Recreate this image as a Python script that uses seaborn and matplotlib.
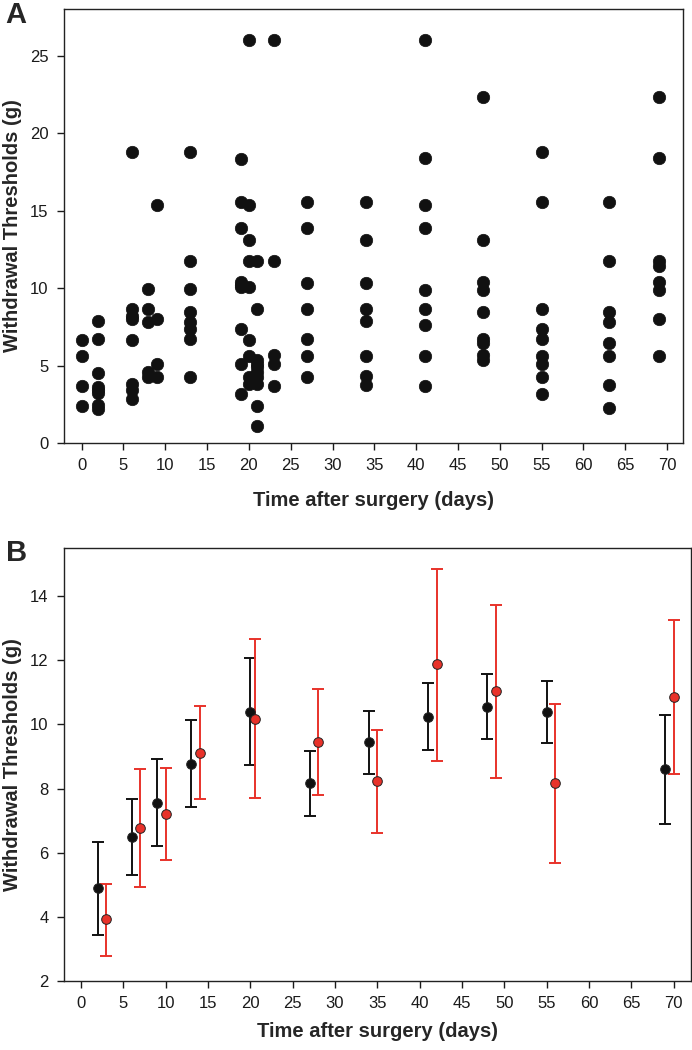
import matplotlib
matplotlib.use("Agg")
import matplotlib.pyplot as plt
import pandas as pd
import seaborn as sns

# Panel A: individual withdrawal thresholds (g) per day after surgery
days_a = [0, 2, 6, 8, 9, 13, 19, 20, 21, 23, 27, 34, 41, 48, 55, 63, 69]
thresholds_a = [
    [6.62, 5.59, 3.68, 2.39],
    [7.85, 6.69, 4.52, 3.6, 3.4, 3.23, 2.43, 2.22],
    [18.8, 8.67, 8.2, 7.98, 6.62, 3.83, 3.4, 2.86],
    [9.91, 8.67, 7.8, 4.58, 4.26],
    [15.33, 7.98, 5.08, 4.26],
    [18.8, 11.72, 9.96, 8.45, 7.8, 7.38, 6.69, 4.26],
    [18.34, 15.57, 13.87, 10.39, 10.2, 10.06, 7.33, 5.12, 3.18],
    [26.0, 15.33, 13.07, 11.72, 10.06, 6.62, 5.59, 4.26, 3.83],
    [11.72, 8.67, 5.38, 5.1, 4.9, 4.6, 4.26, 3.83, 2.39, 1.1],
    [26.0, 11.72, 5.66, 5.08, 3.68],
    [15.57, 13.87, 10.34, 8.67, 6.69, 5.59, 4.26],
    [15.57, 13.12, 10.34, 8.67, 7.85, 5.59, 4.3, 3.76],
    [26.0, 18.37, 15.35, 13.87, 9.89, 8.67, 7.59, 5.59, 3.68],
    [22.32, 13.12, 10.39, 9.89, 8.45, 6.73, 6.45, 5.66, 5.38],
    [18.8, 15.57, 8.67, 7.33, 6.69, 5.59, 5.12, 4.26, 3.18],
    [15.57, 11.72, 8.45, 7.8, 6.45, 5.59, 3.76, 2.26],
    [22.32, 18.37, 11.72, 11.42, 10.39, 9.89, 7.98, 5.59],
]

# Panel B: group means with error bars (black and red groups)
days_black = [2, 6, 9, 13, 20, 27, 34, 41, 48, 55, 69]
mean_black = [4.89, 6.50, 7.56, 8.78, 10.39, 8.16, 9.44, 10.24, 10.55, 10.38, 8.60]
hi_black = [6.32, 7.69, 8.92, 10.14, 12.06, 9.18, 10.43, 11.28, 11.56, 11.35, 10.29]
lo_black = [3.43, 5.32, 6.21, 7.43, 8.73, 7.14, 8.44, 9.20, 9.53, 9.41, 6.89]

days_red = [3, 7, 10, 14, 20.5, 28, 35, 42, 49, 56, 70]
mean_red = [3.92, 6.78, 7.21, 9.12, 10.17, 9.46, 8.23, 11.87, 11.03, 8.16, 10.86]
hi_red = [5.01, 8.60, 8.63, 10.57, 12.66, 11.10, 9.82, 14.86, 13.72, 10.63, 13.27]
lo_red = [2.79, 4.93, 5.76, 7.66, 7.70, 7.80, 6.60, 8.86, 8.34, 5.69, 8.45]

xticks = list(range(0, 75, 5))

sns.set_style("ticks")
plt.rcParams["font.family"] = ["Liberation Sans", "DejaVu Sans"]
plt.rcParams["axes.linewidth"] = 1.0
plt.rcParams["xtick.major.size"] = 5
plt.rcParams["ytick.major.size"] = 5
plt.rcParams["xtick.major.width"] = 1.0
plt.rcParams["ytick.major.width"] = 1.0
plt.rcParams["xtick.color"] = "#1a1a1a"
plt.rcParams["ytick.color"] = "#1a1a1a"

fig = plt.figure(figsize=(6.92, 10.5), dpi=100)
ax_a = fig.add_axes([0.0925, 0.5781, 0.8945, 0.4133])
ax_b = fig.add_axes([0.0925, 0.0657, 0.9056, 0.4124])

df_a = pd.DataFrame({
    "day": [d for d, vals in zip(days_a, thresholds_a) for _ in vals],
    "threshold": [v for vals in thresholds_a for v in vals],
})
sns.scatterplot(data=df_a, x="day", y="threshold", ax=ax_a, color="#111111",
                s=80, edgecolor="#111111", linewidth=0.5, zorder=3)
ax_a.set_xlim(-2.1, 71.9)
ax_a.set_ylim(0, 28)
ax_a.set_yticks([0, 5, 10, 15, 20, 25])
ax_a.set_xticks(xticks)

for days, mean, lo, hi, col in [
    (days_black, mean_black, lo_black, hi_black, "#111111"),
    (days_red, mean_red, lo_red, hi_red, "#e8322a"),
]:
    yerr = [[m - l for m, l in zip(mean, lo)], [h - m for m, h in zip(mean, hi)]]
    ax_b.errorbar(days, mean, yerr=yerr, fmt="none", ecolor=col,
                  elinewidth=1.4, capsize=4.4, capthick=1.4, zorder=2)
    df_b = pd.DataFrame({"day": days, "mean": mean})
    sns.scatterplot(data=df_b, x="day", y="mean", ax=ax_b, color=col, s=48,
                    edgecolor="#222222", linewidth=0.7, zorder=3)
ax_b.set_xlim(-2.0, 72.0)
ax_b.set_ylim(2, 15.5)
ax_b.set_yticks([2, 4, 6, 8, 10, 12, 14])
ax_b.set_xticks(xticks)

for ax in (ax_a, ax_b):
    for side in ("top", "right", "left", "bottom"):
        ax.spines[side].set_visible(True)
        ax.spines[side].set_color("#222222")
    ax.tick_params(axis="both", labelsize=12, pad=6)
    ax.tick_params(top=False, right=False)
    ax.set_xlabel("Time after surgery (days)", fontsize=14.5, fontweight="bold")
    ax.set_ylabel("Withdrawal Thresholds (g)", fontsize=14.5, fontweight="bold")

ax_a.xaxis.labelpad = 13
ax_b.xaxis.labelpad = 8
ax_a.yaxis.set_label_coords(-0.068, 0.5)
ax_b.yaxis.set_label_coords(-0.067, 0.5)

fig.text(0.008, 0.999, "A", fontsize=21, fontweight="bold", va="top")
fig.text(0.008, 0.487, "B", fontsize=21, fontweight="bold", va="top")

fig.savefig("out.png", dpi=100)
